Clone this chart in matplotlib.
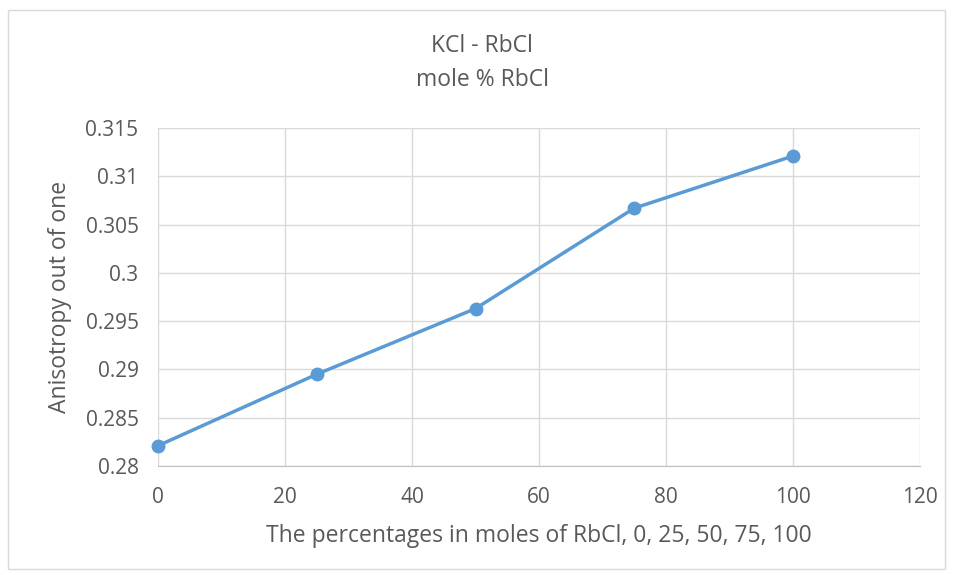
import matplotlib.pyplot as plt
from matplotlib.patches import Rectangle

rbcl = [0, 25, 50, 75, 100]
anisotropy = [0.2821, 0.2895, 0.2963, 0.3067, 0.3121]

fig = plt.figure(figsize=(9.55, 5.75), dpi=100)
plt.rcParams['font.family'] = ['Open Sans', 'DejaVu Sans']

# outer chart border
fig.patches.append(Rectangle((8/955, 0.01), 0.99 - 8/955, 1 - 10/575 - 0.01,
                             transform=fig.transFigure, fill=False,
                             edgecolor="#D9D9D9", linewidth=1))

ax = fig.add_axes([158/955, 1 - 466/575, (920 - 158)/955, (466 - 128)/575])
ax.plot(rbcl, anisotropy, color="#5B9BD5", linewidth=2.5, marker="o",
        markersize=9, zorder=3, clip_on=False)

ax.set_xlim(0, 120)
ax.set_ylim(0.28, 0.315)
ax.set_xticks(range(0, 121, 20))
ax.set_yticks([0.28, 0.285, 0.29, 0.295, 0.3, 0.305, 0.31, 0.315])
ax.set_yticklabels(["0.28", "0.285", "0.29", "0.295", "0.3", "0.305", "0.31", "0.315"])
ax.grid(True, color="#D9D9D9", linewidth=1)
ax.set_axisbelow(True)
for s in ["top", "right", "left"]:
    ax.spines[s].set_visible(False)
ax.spines["bottom"].set_color("#BFBFBF")
ax.tick_params(length=0, labelsize=15, colors="#595959", pad=15)
ax.tick_params(axis="y", pad=14)

ax.set_xlabel("The percentages in moles of RbCl, 0, 25, 50, 75, 100",
              fontsize=16.5, color="#595959", labelpad=12)
ax.set_ylabel("Anisotropy out of one", fontsize=16.5, color="#595959", labelpad=10)
fig.text(482/955, 1 - 46/575, "KCl - RbCl", ha="center", va="center",
         fontsize=16.5, color="#595959")
fig.text(482/955, 1 - 80/575, "mole % RbCl", ha="center", va="center",
         fontsize=16.5, color="#595959")

fig.savefig("out.png", dpi=100)
